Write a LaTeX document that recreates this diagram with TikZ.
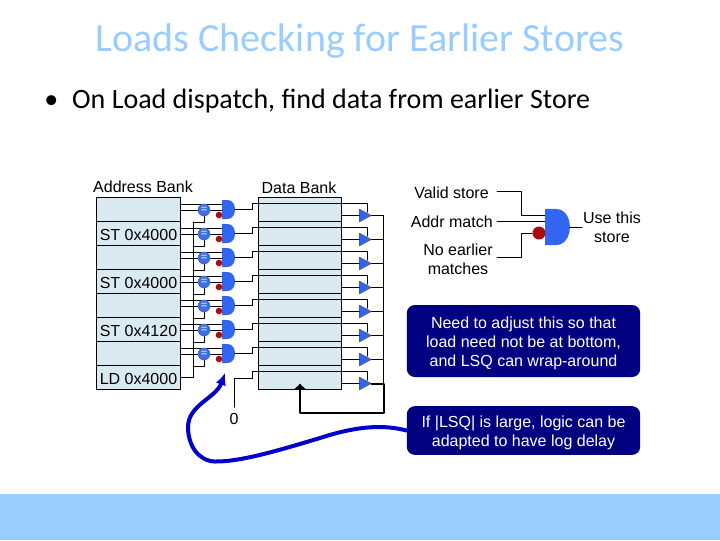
\documentclass[tikz,border=0pt]{standalone}
\usepackage{fontspec}
\setmainfont{Carlito}
\newfontfamily\diagfont{Liberation Sans}
\usetikzlibrary{arrows.meta, positioning, shapes.geometric}
\definecolor{cellfill}{RGB}{218, 234, 241}
\definecolor{partblue}{RGB}{51, 102, 240}
\definecolor{eqblue}{RGB}{66, 110, 220}
\definecolor{dotred}{RGB}{170, 10, 20}
\definecolor{notenavy}{RGB}{0, 0, 128}
\definecolor{curveblue}{RGB}{0, 0, 204}
\definecolor{titleblue}{RGB}{153, 204, 255}
\tikzset{
    every path/.style={line cap=round, line join=round},
    wire/.style={draw=black, line width=0.75pt},
    cell/.style={draw=black, fill=cellfill, line width=0.75pt, minimum width=62.5pt, minimum height=18pt, inner sep=0pt, text height=11pt, text depth=0pt, font=\diagfont\fontsize{12}{14}\selectfont},
    eqnode/.style={circle, fill=eqblue, inner sep=0pt, minimum size=9.5pt, text=white, font=\diagfont\fontsize{8}{8}\selectfont},
    dotnode/.style={circle, fill=dotred, inner sep=0pt, minimum size=#1},
    dotnode/.default=5pt,
    trinode/.style={isosceles triangle, isosceles triangle stretches, shape border rotate=0, fill=partblue, draw=black!70, line width=0.3pt, inner sep=0pt, minimum height=9pt, minimum width=9.75pt},
    label/.style={inner sep=0pt, align=center, font=\diagfont\fontsize{12}{14.25}\selectfont},
    note/.style={rounded corners=6pt, fill=notenavy, text=white, inner sep=0pt, align=center, font=\diagfont\fontsize{12}{14.5}\selectfont},
    pics/andpart/.style={code={
        \fill [partblue] (-6.5,-9.5) -- (-1,-9.5) .. controls (4,-9.5) and (6.5,-5) .. (6.5,0) .. controls (6.5,5) and (4,9.5) .. (-1,9.5) -- (-6.5,9.5) -- cycle;
        \coordinate (-out) at (6.5,0);
    }}
}
\begin{document}
\begin{tikzpicture}[x=0.75pt, y=-0.75pt]
    \useasboundingbox (0,0) rectangle (720,540);
    \fill [white] (0,0) rectangle (720,540);
    \fill [titleblue] (0,494) rectangle (720,540);

    \node [text=titleblue, inner sep=0pt, anchor=base, font=\fontsize{30}{32}\selectfont] (title) at (360,51) {Loads Checking for Earlier Stores};
    \node [inner sep=0pt, anchor=base west, font=\fontsize{21}{24}\selectfont] (bullet) at (44,108) {\textbullet\hspace{10.5pt}On Load dispatch, find data from earlier Store};

    \node [label] (addrtitle) at (143,187) {Address Bank};
    \node [label] (datatitle) at (299,188) {Data Bank};

    % address and data banks
    \foreach \i/\txt in {0/{}, 1/ST 0x4000, 2/{}, 3/ST 0x4000, 4/{}, 5/ST 0x4120, 6/{}, 7/LD 0x4000} {
        \node [cell] (addr\i) at (138.5,209+24*\i) {\txt};
        \node [cell] (data\i) at (300,209+24*\i) {};
    }

    % comparators, gates and drivers
    \foreach \i in {0,...,7} {
        \node [trinode, anchor=lower side] (tri\i) at (359,215.5+24*\i) {};
        \coordinate (dout\i) at (342,215.5+24*\i);
        \coordinate (bus\i) at (383,215.5+24*\i);
        \draw [wire] (dout\i) -- (tri\i.lower side);
        \draw [wire] (tri\i.apex) -- (bus\i);
    }
    \foreach \i in {0,...,6} {
        \coordinate (in\i) at (180,204+24*\i);
        \coordinate (mid\i) at (180,210+24*\i);
        \coordinate (tap\i) at (193,222+24*\i);
        \coordinate (gin\i) at (222,204+24*\i);
        \coordinate (gmid\i) at (222,210+24*\i);
        \coordinate (over\i) at (252,209.5+24*\i);
        \coordinate (top\i) at (252,203+24*\i);
        \coordinate (drop\i) at (367,203+24*\i);
        \coordinate (trin\i) at (367,212+24*\i);
        \draw [wire] (in\i) -- (gin\i);
        \node [eqnode] (eq\i) at (204,210+24*\i) {=};
        \pic (gate\i) at (228.5,209.5+24*\i) {andpart};
        \node [dotnode] (dot\i) at (219,215+24*\i) {};
        \draw [wire] (mid\i) -- (eq\i);
        \draw [wire] (eq\i) -- (gmid\i);
        \draw [wire] (eq\i.south) |- (tap\i);
        \draw [wire] (gate\i-out) -- (over\i) -- (top\i) -- (drop\i) -- (trin\i);
    }

    % search bus and zero input
    \coordinate (busbot) at (193,377);
    \draw [wire] (addr7.east |- busbot) -- (busbot) -- (tap0);
    \node [label] (zero) at (234,419) {0};
    \coordinate (zup) at (234,378);
    \coordinate (zover) at (252,378);
    \coordinate (ztop) at (252,371);
    \coordinate (zdrop) at (367,371);
    \coordinate (ztri) at (367,380);
    \draw [wire] (zero.north) ++(0,-6) -- (zup) -- (zover) -- (ztop) -- (zdrop) -- (ztri);
    \draw [wire] (bus0) -- (bus7);

    % write back
    \coordinate (backr) at (384,413);
    \coordinate (backl) at (300,413);
    \coordinate (backtip) at (300,383.5);
    \draw [line width=1.5pt, -{Latex[length=4pt, width=9pt]}] (tri7.apex) -- (bus7 -| backr) -- (backr) -- (backl) -- (backtip);

    % small truth gate
    \coordinate (vr) at (497,191);
    \coordinate (vd) at (521,191);
    \coordinate (vg) at (545,215.5);
    \coordinate (mr) at (497,221.5);
    \coordinate (mg) at (545,221.5);
    \coordinate (nr) at (497,257);
    \coordinate (nu) at (521,257);
    \coordinate (nd) at (521,233);
    \coordinate (useout) at (582,227);
    \draw [wire] (vr) -- (vd) |- (vg);
    \draw [wire] (mr) -- (mg);
    \pic [scale=1.9] (biggate) at (557.5,227) {andpart};
    \node [dotnode=9.75pt] (bigdot) at (539,233) {};
    \draw [wire] (nr) -- (nu) -- (nd) -- (bigdot);
    \draw [wire] (biggate-out) -- (useout);
    \node [label, anchor=east] (valid) at (489,193) {Valid store};
    \node [label, anchor=east] (match) at (493,222) {Addr match};
    \node [label] (noearlier) at (458,259) {No earlier\\matches};
    \node [label] (usestore) at (612,227) {Use this\\store};

    % notes
    \node [note, minimum width=175pt, minimum height=54pt] (adjust) at (523.5,341) {\rule{0pt}{12pt}Need to adjust this so that\\load need not be at bottom,\\and LSQ can wrap-around};
    \node [note, minimum width=175pt, minimum height=36.5pt] (loglsq) at (523.5,430.5) {\rule{0pt}{12pt}If |LSQ| is large, logic can be\\adapted to have log delay};

    % curved pointer
    \draw [curveblue, line width=3pt, -{Latex[length=9pt, width=8pt]}] (loglsq.west) .. controls (385,425) and (360,425) .. (320,438) .. controls (280,450) and (240,462) .. (215,461.5) .. controls (198,461) and (188,445) .. (188,427) .. controls (188,405) and (216,398) .. (225,373);
\end{tikzpicture}
\end{document}
